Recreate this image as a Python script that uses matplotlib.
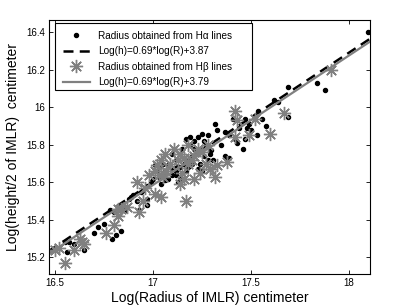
import matplotlib
matplotlib.use("Agg")
import matplotlib.pyplot as plt
from matplotlib.patches import Rectangle
import numpy as np

plt.rcParams['font.family'] = ['Liberation Sans', 'DejaVu Sans']

# Halpha radius points (log R, log h/2)
ha_x = [18.10, 17.84, 17.88, 17.69, 17.62, 17.64, 17.69, 17.54, 17.56, 17.58,
        17.53, 17.50, 17.49, 17.47, 17.48, 17.44, 17.41, 17.49, 17.47, 17.46,
        17.42, 17.37, 17.39, 17.32, 17.33, 17.39, 17.38, 17.37,
        17.25, 17.23, 17.28, 17.21, 17.19, 17.17, 17.15, 17.26, 17.27, 17.24,
        17.30, 17.31, 17.29, 17.22, 17.20, 17.18, 17.16, 17.14, 17.12, 17.10,
        17.08, 17.06, 17.04, 17.13, 17.15, 17.20, 17.23, 17.25, 17.24, 17.12,
        17.10, 17.08, 17.05, 17.03, 17.02, 17.01, 17.06, 17.00, 16.99, 16.97,
        16.97, 16.97, 16.94, 16.93, 16.90, 16.89, 16.88, 16.86, 16.84, 16.83,
        16.82, 16.78, 16.80, 16.84, 16.81, 16.79, 16.65, 16.56, 16.55, 16.57,
        16.63, 16.60, 16.70, 16.72, 16.75, 16.92, 16.95, 17.11, 17.09, 17.17,
        17.18, 17.19, 17.21, 17.26, 17.28, 17.35, 17.43, 17.12, 17.14, 17.19]
ha_y = [16.40, 16.13, 16.09, 16.11, 16.04, 16.03, 15.95, 15.98, 15.94, 15.90,
        15.85, 15.88, 15.91, 15.94, 15.89, 15.89, 15.94, 15.85, 15.83, 15.78,
        15.83, 15.87, 15.85, 15.91, 15.88, 15.73, 15.73, 15.74,
        15.86, 15.84, 15.85, 15.82, 15.80, 15.83, 15.78, 15.82, 15.80, 15.78,
        15.77, 15.72, 15.75, 15.76, 15.74, 15.72, 15.70, 15.68, 15.66, 15.64,
        15.62, 15.61, 15.59, 15.60, 15.62, 15.70, 15.67, 15.66, 15.70, 15.72,
        15.75, 15.69, 15.70, 15.68, 15.66, 15.69, 15.66, 15.62, 15.60, 15.58,
        15.51, 15.48, 15.55, 15.45, 15.53, 15.52, 15.51, 15.45, 15.46, 15.46,
        15.45, 15.45, 15.44, 15.34, 15.32, 15.30, 15.24, 15.23, 15.28, 15.28,
        15.30, 15.27, 15.33, 15.36, 15.38, 15.50, 15.56, 15.78, 15.70, 15.66,
        15.68, 15.73, 15.78, 15.74, 15.72, 15.80, 15.81, 15.64, 15.63, 15.84]

# Hbeta radius points
hb_x = [17.91, 17.67, 17.60, 17.42, 17.43, 17.42, 17.52, 17.49, 17.38,
        17.32, 17.33, 17.29, 17.27, 17.25, 17.23, 17.21, 17.20, 17.18, 17.16,
        17.14, 17.13, 17.15, 17.16, 17.14, 17.17, 17.06, 17.04, 17.02, 17.01,
        17.03, 17.05, 17.07, 17.09, 16.98, 17.01, 17.04, 16.92, 16.96, 16.95,
        16.93, 16.87, 16.84, 16.82, 16.80, 16.76, 16.82, 16.64, 16.63, 16.65,
        16.60, 16.55, 16.50, 16.52, 17.28, 17.24, 17.21, 17.11, 17.18]
hb_y = [16.20, 15.97, 15.86, 15.98, 15.93, 15.84, 15.94, 15.85, 15.71,
        15.63, 15.69, 15.67, 15.70, 15.76, 15.78, 15.74, 15.72, 15.70, 15.73,
        15.75, 15.72, 15.65, 15.62, 15.59, 15.50, 15.75, 15.72, 15.69, 15.66,
        15.64, 15.63, 15.66, 15.70, 15.64, 15.54, 15.52, 15.60, 15.57, 15.50,
        15.44, 15.47, 15.46, 15.42, 15.37, 15.33, 15.46, 15.28, 15.30, 15.27,
        15.24, 15.17, 15.24, 15.25, 15.80, 15.65, 15.62, 15.78, 15.80]

# fitted lines (slope, intercept) as drawn
fit_ha = (0.69, 3.87)
fit_hb = (0.69, 3.855)

labels = ['Radius obtained from H\u03b1 lines',
          'Log(h)=0.69*log(R)+3.87',
          'Radius obtained from H\u03b2 lines',
          'Log(h)=0.69*log(R)+3.79']

xlim = (16.47, 18.11)
ylim = (15.111, 16.466)
xticks = [16.5, 17, 17.5, 18]
xticklabels = ['16.5', '17', '17.5', '18']
yticks = [15.2, 15.4, 15.6, 15.8, 16.0, 16.2, 16.4]
yticklabels = ['15.2', '15.4', '15.6', '15.8', '16', '16.2', '16.4']

fig = plt.figure(figsize=(4.09, 3.07), dpi=100)
ax = fig.add_axes([0.1198, 0.1075, 0.785, 0.8274])

gray = '#808080'
lx = np.array(xlim)
h1, = ax.plot(ha_x, ha_y, 'o', color='black', markersize=2.9, linestyle='none')
h2, = ax.plot(lx, fit_ha[0] * lx + fit_ha[1], color='black', linewidth=1.8,
              dashes=(4, 2.5))
h3, = ax.plot(hb_x, hb_y, marker=(8, 2, 0), color=gray, markersize=9.5,
              markeredgewidth=1.0, linestyle='none')
h4, = ax.plot(lx, fit_hb[0] * lx + fit_hb[1], color=gray, linewidth=1.6)

ax.set_xlim(*xlim)
ax.set_ylim(*ylim)
ax.set_xticks(xticks)
ax.set_xticklabels(xticklabels)
ax.set_yticks(yticks)
ax.set_yticklabels(yticklabels)
ax.tick_params(direction='in', length=3, width=0.6, labelsize=7,
               top=True, right=True, pad=3)
for s in ax.spines.values():
    s.set_linewidth(0.8)

ax.set_xlabel('Log(Radius of IMLR) centimeter', fontsize=10, labelpad=2)
ax.set_ylabel('Log(height/2 of IMLR)  centimeter', fontsize=10, labelpad=4)

# legend frame
fx0, fx1, fy0, fy1 = 0.0187, 0.632, 0.724, 0.988
ax.add_patch(Rectangle((fx0, fy0), fx1 - fx0, fy1 - fy0, transform=ax.transAxes,
                       facecolor='white', edgecolor='black', linewidth=0.8,
                       zorder=4.5, clip_on=False))
leg = ax.legend([h1, h2, h3, h4], labels, loc='upper left',
                bbox_to_anchor=(fx0, fy1), fontsize=7.2,
                frameon=False, handlelength=2.7, handletextpad=0.85,
                labelspacing=0.55, borderaxespad=0.0, borderpad=0.75)
leg.set_zorder(5)

fig.savefig('out.png', dpi=100)
